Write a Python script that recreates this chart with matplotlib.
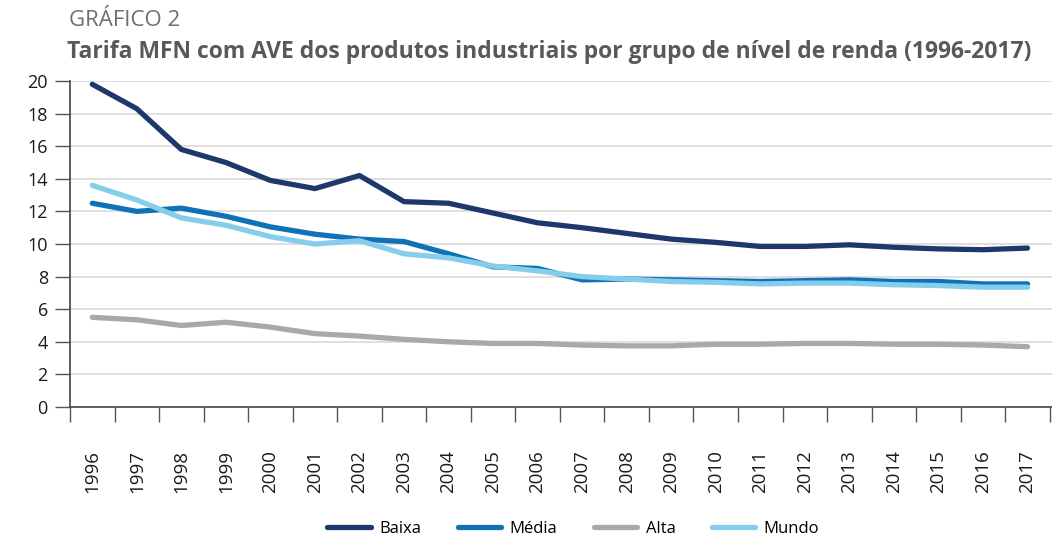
import numpy as np
import matplotlib.pyplot as plt

years = [str(y) for y in range(1996, 2018)]

baixa = [19.8, 18.3, 15.8, 15.0, 13.9, 13.4, 14.2, 12.6, 12.5, 11.9, 11.3,
         11.0, 10.65, 10.3, 10.1, 9.85, 9.85, 9.95, 9.8, 9.7, 9.65, 9.75]
media = [12.5, 12.0, 12.2, 11.7, 11.05, 10.6, 10.3, 10.15, 9.4, 8.6, 8.5,
         7.8, 7.85, 7.8, 7.75, 7.7, 7.75, 7.8, 7.7, 7.7, 7.55, 7.55]
alta = [5.5, 5.35, 5.0, 5.2, 4.9, 4.5, 4.35, 4.15, 4.0, 3.9, 3.9,
        3.8, 3.75, 3.75, 3.85, 3.85, 3.9, 3.9, 3.85, 3.85, 3.8, 3.7]
mundo = [13.6, 12.7, 11.6, 11.15, 10.45, 10.0, 10.2, 9.4, 9.15, 8.65, 8.35,
         8.0, 7.85, 7.7, 7.65, 7.55, 7.6, 7.6, 7.5, 7.45, 7.35, 7.35]

series = [("Baixa", baixa, "#1f386b"),
          ("Média", media, "#0f72b6"),
          ("Alta", alta, "#a7a9ab"),
          ("Mundo", mundo, "#86cdec")]

plt.rcParams['font.family'] = ['Open Sans', 'DejaVu Sans']

fig = plt.figure(figsize=(10.52, 5.39), dpi=100)
ax = fig.add_axes([70/1052, 1 - 407/539, 982/1052, 326/539])

x = np.arange(len(years))
for name, vals, col in series:
    ax.plot(x, vals, color=col, lw=3.8, label=name, solid_capstyle='round',
            solid_joinstyle='round', zorder=3)

ax.set_ylim(0, 20)
ax.set_yticks(np.arange(0, 21, 2))
ax.set_xlim(-0.5, 21.55)
ax.grid(axis='y', color='#d9d9d9', lw=1.2, zorder=0)
ax.set_axisbelow(True)

ax.set_xticks(x)
ax.set_xticklabels(years, rotation=90, fontsize=13.5, color='#1a1a1a')
ax.set_xticks(np.arange(-0.5, 22, 1), minor=True)
ax.tick_params(axis='x', which='major', length=0, pad=31)
ax.tick_params(axis='x', which='minor', length=11, width=1, color='#555555')
ax.tick_params(axis='y', length=11, width=1, color='#555555', labelsize=13,
               labelcolor='#1a1a1a', pad=5)

for s in ['top', 'right']:
    ax.spines[s].set_visible(False)
ax.spines['left'].set_color('#444444')
ax.spines['bottom'].set_color('#444444')
ax.spines['left'].set_linewidth(1.2)
ax.spines['bottom'].set_linewidth(1.2)

fig.text(69/1052, 1 - 20/539, "GRÁFICO 2", fontsize=16, color='#6d6e71',
         va='center', ha='left')
fig.text(67/1052, 1 - 52/539,
         "Tarifa MFN com AVE dos produtos industriais por grupo de nível de renda (1996-2017)",
         fontsize=16.5, fontweight='bold', color='#58595b', va='center', ha='left')

fig.legend(loc='center', bbox_to_anchor=(0.545, 1 - 529/539), ncol=4,
           frameon=False, fontsize=12, handlelength=2.6, columnspacing=2.2,
           handletextpad=0.5)

fig.savefig("out.png", dpi=100)
